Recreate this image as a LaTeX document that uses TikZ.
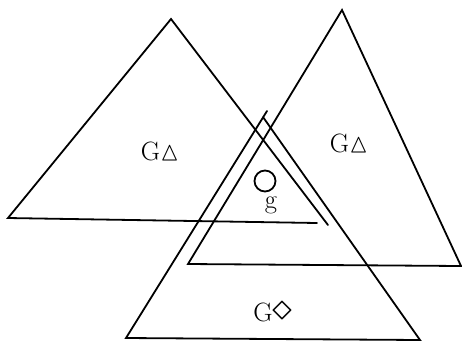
\documentclass[tikz,border=0pt]{standalone}
\usepackage{amssymb}
\usepackage{fontspec}
\usetikzlibrary{positioning}

\begin{document}
\begin{tikzpicture}[
  x=1pt, y=-1pt,
  side/.style={line width=1.8pt, line join=miter, line cap=round},
  lbl/.style={font=\fontsize{26.5pt}{30pt}\selectfont, inner sep=0pt},
  ring/.style={circle, draw, line width=1.8pt, minimum size=21pt, inner sep=0pt}]

  \useasboundingbox (0,0) rectangle (462,341);

  % Left triangle
  \draw[side] (328,225) -- (171,19) -- (8,218) -- (317,223);

  % Right triangle
  \draw[side] (188,264) -- (342,10) -- (461,266) -- cycle;

  % Lower triangle (apex overshoots as a small tick)
  \draw[side] (267,111) -- (126,338) -- (420,340) -- (263,117);

  % Labels
  \node[lbl] (gleft)  at (160,151) {G$\vartriangle$};
  \node[lbl] (gright) at (349,143) {G$\vartriangle$};
  \node[ring] (o) at (265,181) {};
  \node[lbl] (g) at (271,205) {g};
  \node[lbl] (gdia) at (273,312) {G\raisebox{1pt}{\scalebox{1.6}{$\diamond$}}};
\end{tikzpicture}
\end{document}
